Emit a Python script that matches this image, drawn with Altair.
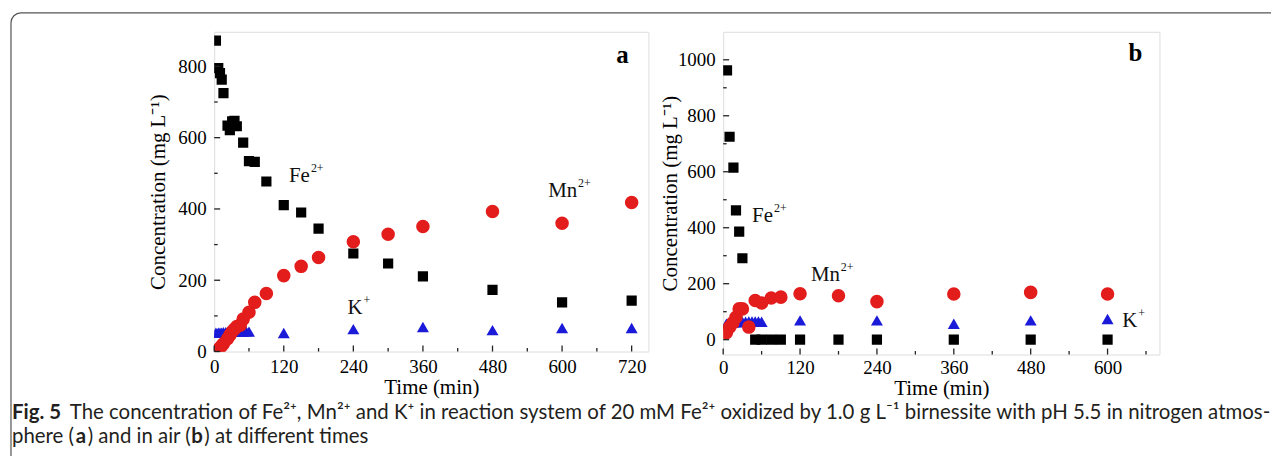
import altair as alt
import pandas as pd

# ---------------- data ----------------
# panel a : nitrogen atmosphere
a_fe_t = [3, 7, 10, 13, 16, 23, 27, 31, 35, 39, 50, 60, 70, 90, 120, 150, 180, 240, 300, 360, 480, 600, 720]
a_fe_c = [872, 795, 781, 763, 725, 634, 621, 646, 647, 632, 586, 534, 532, 477, 411, 390, 345, 275, 247, 211, 173, 138, 143]
a_mn_t = [3, 7, 10, 13, 16, 23, 27, 31, 35, 39, 45, 50, 60, 70, 90, 120, 150, 180, 240, 300, 360, 480, 600, 720]
a_mn_c = [2, 5, 10, 16, 22, 36, 46, 56, 63, 70, 74, 91, 110, 138, 163, 213, 239, 264, 308, 329, 351, 393, 360, 418]
a_k_t = [3, 7, 10, 13, 16, 20, 23, 27, 31, 35, 39, 45, 50, 55, 60, 120, 240, 360, 480, 600, 720]
a_k_c = [53, 53, 53, 53, 54, 54, 54, 54, 55, 55, 56, 56, 56, 57, 56, 52, 63, 69, 60, 66, 66]

# panel b : air
b_fe_t = [6, 10, 16, 20, 25, 30, 50, 60, 75, 90, 120, 180, 240, 360, 480, 600]
b_fe_c = [962, 725, 615, 462, 386, 291, 0, 0, 0, 0, 0, 0, 0, 0, 0, 0]
b_mn_t = [5, 10, 15, 20, 25, 30, 40, 50, 60, 75, 90, 120, 180, 240, 360, 480, 600]
b_mn_c = [25, 45, 60, 80, 110, 110, 45, 140, 131, 149, 152, 164, 157, 136, 163, 169, 163]
b_k_t = [5, 10, 15, 20, 25, 30, 35, 40, 45, 50, 55, 60, 120, 240, 360, 480, 600]
b_k_c = [57, 58, 60, 62, 63, 64, 64, 65, 65, 65, 65, 64, 69, 69, 57, 69, 74]

# axes
a_x_major = [0, 120, 240, 360, 480, 600, 720]
a_x_minor = [60, 180, 300, 420, 540, 660]
a_y_major = [0, 200, 400, 600, 800]
a_y_minor = [100, 300, 500, 700]
b_x_major = [0, 120, 240, 360, 480, 600]
b_x_minor = [60, 180, 300, 420, 540, 660]
b_y_major = [0, 200, 400, 600, 800, 1000]
b_y_minor = [100, 300, 500, 700, 900]

# in-plot labels: (base, superscript, t, c)
a_labels = [("Fe", "2+", 129, 475), ("Mn", "2+", 576, 433), ("K", "+", 230, 106)]
b_labels = [("Fe", "2+", 45, 422), ("Mn", "2+", 137, 209), ("K", "+", 623, 46)]

caption_l1_bold = "Fig. 5"
caption_l1 = ("The concentration of Fe²⁺, Mn²⁺ and K⁺ in reaction system of 20 mM Fe²⁺ "
              "oxidized by 1.0 g L⁻¹ birnessite with pH 5.5 in nitrogen atmos-")
caption_l2 = [("phere (", "normal", 0), ("a", "bold", 64), (") and in air (", "normal", 76),
              ("b", "bold", 180), (") at different times", "normal", 193)]

SERIF = "Liberation Serif"
SANS = "Lato"
CAP_FS = 20.5
ions = ["Fe", "K", "Mn"]
shape_scale = alt.Scale(domain=ions, range=["square", "triangle-up", "circle"])
color_scale = alt.Scale(domain=ions, range=["#000000", "#1a1ad8", "#e31c1c"])
size_scale = alt.Scale(domain=ions, range=[105, 185, 118])
base_w = {"Fe": 21, "Mn": 29, "K": 15}


def ion_df(parts):
    rows = []
    for ion, ts, vs in parts:
        for t, v in zip(ts, vs):
            rows.append({"ion": ion, "t": t, "c": v})
    return pd.DataFrame(rows)


def one():
    return pd.DataFrame({"k": [0]})


def panel(df, xdom, ydom, xmaj, xmin, ymaj, ymin, W, H, labels, letter, letter_xy, ytitle_pad,
          xlabel_pad, xtitle_pad, extra=()):
    xs = alt.Scale(domain=xdom, nice=False, zero=False)
    ys = alt.Scale(domain=ydom, nice=False, zero=False)
    xaxis = alt.Axis(values=xmaj, title="Time (min)", ticks=False, tickSize=0, domain=False, grid=False,
                     format="d", labelFont=SERIF, labelFontSize=19, labelPadding=xlabel_pad, labelColor="black",
                     labelFlush=False, labelOverlap=False,
                     titleFont=SERIF, titleFontSize=21, titleFontWeight="normal", titleColor="black",
                     titlePadding=xtitle_pad)
    yaxis = alt.Axis(values=ymaj, title="Concentration (mg L⁻¹)", ticks=False, tickSize=0, domain=False,
                     grid=False, format="d", labelFont=SERIF, labelFontSize=19, labelPadding=8,
                     labelColor="black", labelFlush=False, labelOverlap=False,
                     titleFont=SERIF, titleFontSize=21, titleFontWeight="normal", titleColor="black",
                     titlePadding=ytitle_pad)
    X = lambda f: alt.X(f, scale=xs, axis=xaxis)
    Y = lambda f: alt.Y(f, scale=ys, axis=yaxis)

    pts = alt.Chart(df).mark_point(filled=True, opacity=1, clip=True, strokeWidth=0).encode(
        x=X("t:Q"), y=Y("c:Q"),
        shape=alt.Shape("ion:N", scale=shape_scale, legend=None),
        color=alt.Color("ion:N", scale=color_scale, legend=None),
        size=alt.Size("ion:N", scale=size_scale, legend=None),
    )
    layers = [pts]
    # inward ticks
    for vals, ln in ((xmaj, 6), (xmin, 3.5)):
        layers.append(alt.Chart(pd.DataFrame({"t": vals})).mark_rule(color="#222", strokeWidth=1.3).encode(
            x=X("t:Q"), y=alt.value(H), y2=alt.value(H - ln)))
    for vals, ln in ((ymaj, 6), (ymin, 3.5)):
        layers.append(alt.Chart(pd.DataFrame({"c": vals})).mark_rule(color="#222", strokeWidth=1.3).encode(
            y=Y("c:Q"), x=alt.value(0), x2=alt.value(ln)))
    # labels
    for base, sup, t, c in labels:
        d = pd.DataFrame({"t": [t], "c": [c]})
        layers.append(alt.Chart(d).mark_text(text=base, font=SERIF, fontSize=21, align="left",
                                             baseline="alphabetic", color="#111").encode(x=X("t:Q"), y=Y("c:Q")))
        layers.append(alt.Chart(d).mark_text(text=sup, font=SERIF, fontSize=12, align="left",
                                             baseline="alphabetic", color="#111", dx=base_w[base] + 1,
                                             dy=-10).encode(x=X("t:Q"), y=Y("c:Q")))
    layers.append(alt.Chart(one()).mark_text(text=letter, font=SERIF, fontSize=25, fontWeight="bold",
                                             align="center", baseline="alphabetic", color="black").encode(
        x=alt.value(letter_xy[0]), y=alt.value(letter_xy[1])))
    layers.extend(extra)
    return alt.layer(*layers).properties(width=W, height=H)


# border + caption, positioned relative to panel a's plot area (origin at page 213,32)
border = alt.Chart(one()).mark_point(
    shape="M0,445 L0,10 A10,10 0 0 1 10,0 L1265,0", size=4, filled=False,
    stroke="#555", strokeWidth=1.2, opacity=1).encode(x=alt.value(-204), y=alt.value(-19))
cap = [
    alt.Chart(one()).mark_text(text=caption_l1_bold, font=SANS, fontSize=CAP_FS, fontWeight="bold",
                               align="left", baseline="middle", color="#231f20").encode(
        x=alt.value(-203), y=alt.value(383)),
    alt.Chart(one()).mark_text(text=caption_l1, font=SANS, fontSize=CAP_FS, align="left",
                               baseline="middle", color="#231f20").encode(x=alt.value(-145), y=alt.value(383)),
]
for txt, wgt, off in caption_l2:
    cap.append(alt.Chart(one()).mark_text(text=txt, font=SANS, fontSize=CAP_FS, fontWeight=wgt, align="left",
                                          baseline="middle", color="#231f20").encode(
        x=alt.value(-203 + off), y=alt.value(407)))

df_a = ion_df([("Fe", a_fe_t, a_fe_c), ("K", a_k_t, a_k_c), ("Mn", a_mn_t, a_mn_c)])
df_b = ion_df([("Fe", b_fe_t, b_fe_c), ("K", b_k_t, b_k_c), ("Mn", b_mn_t, b_mn_c)])

pa = panel(df_a, [0, 749], [0, 897], a_x_major, a_x_minor, a_y_major, a_y_minor, 436, 321,
           a_labels, "a", (410, 31), 9, 6, 0, extra=[border] + cap)
pb = panel(df_b, [0, 681], [-53, 1100], b_x_major, b_x_minor, b_y_major, b_y_minor, 438, 324,
           b_labels, "b", (414, 29), -3, 4, 0)

chart = alt.hconcat(pa, pb, spacing=75, bounds="flush").properties(
    padding={"left": 0, "top": 1, "right": 0, "bottom": 0},
    autosize=alt.AutoSizeParams(type="pad"),
).configure_view(stroke="#222", strokeWidth=1.5).configure_axis(
    titleFontWeight="normal", titleFont=SERIF, labelFont=SERIF
).configure(background="white")

chart.save("out.html", embed_options={"renderer": "svg", "actions": False})
